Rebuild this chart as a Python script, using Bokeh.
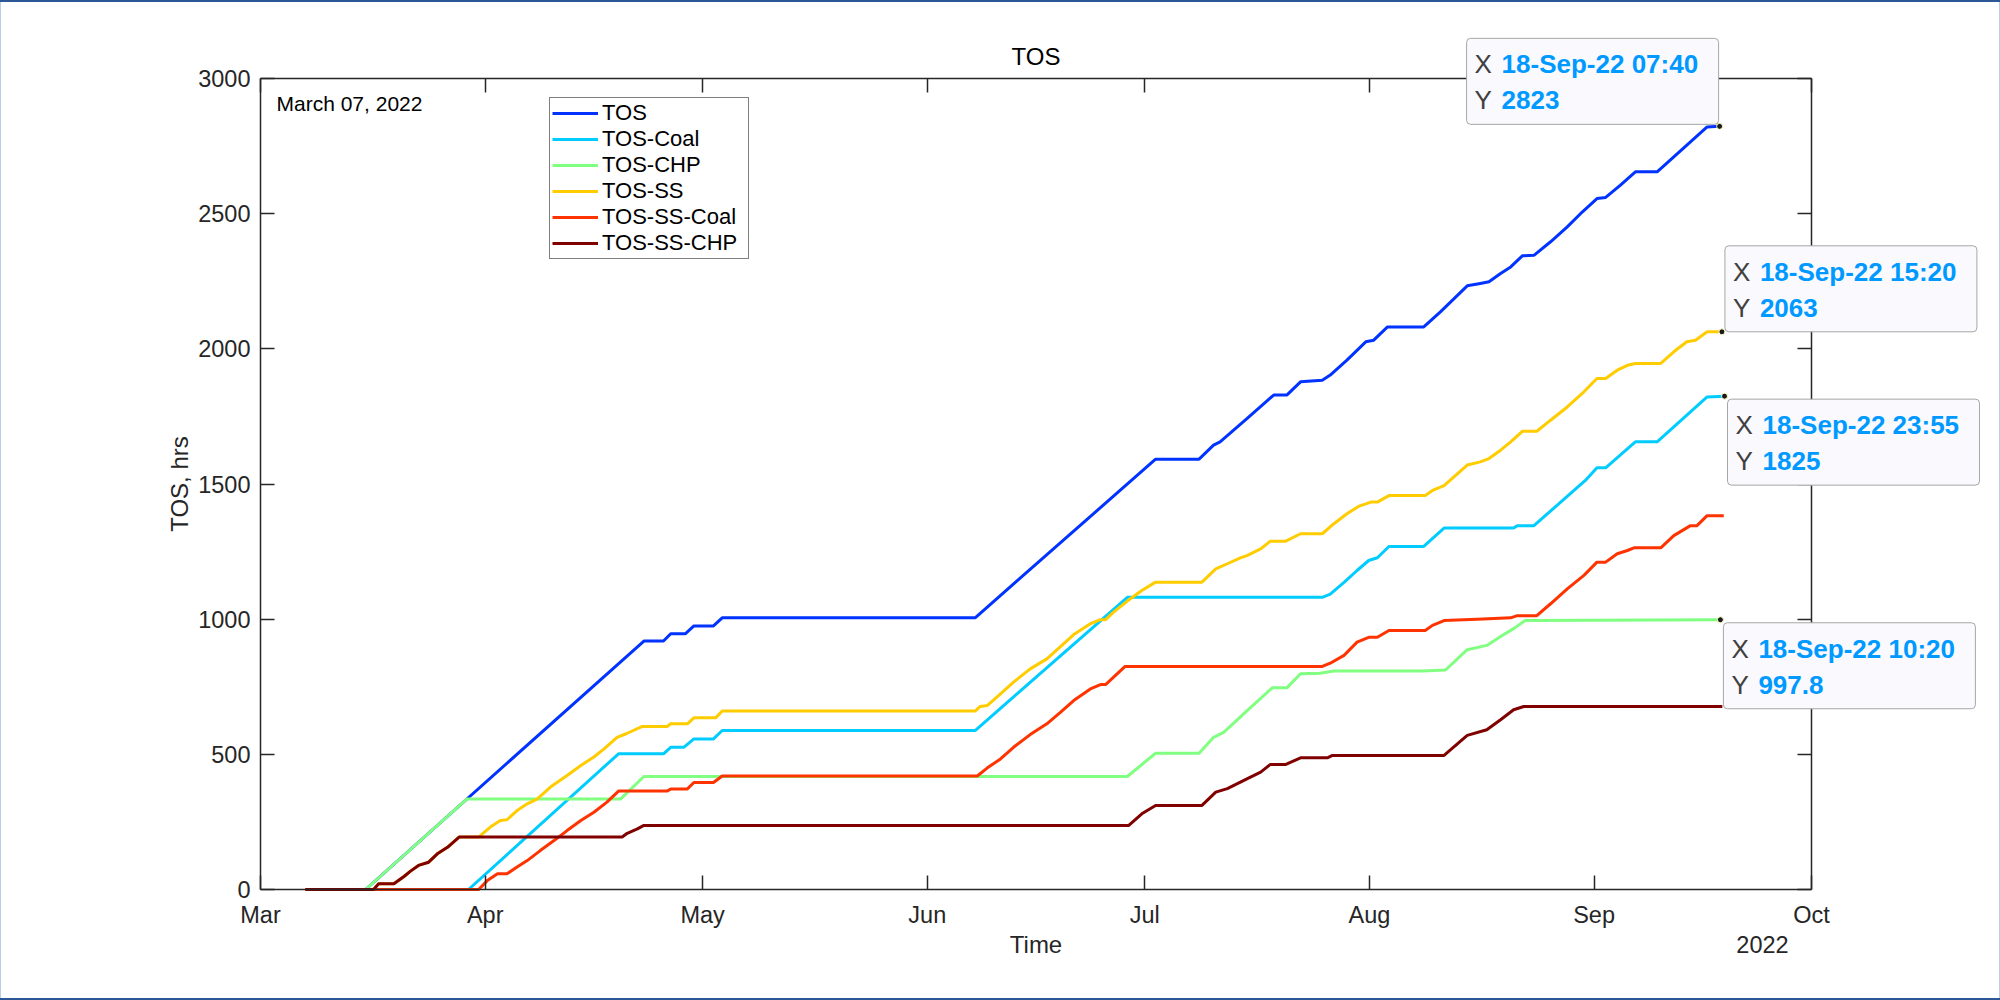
import math
import pandas as pd
from bokeh.plotting import figure
from bokeh.models import (ColumnDataSource, Range1d, FixedTicker, DatetimeTickFormatter,
                          DatetimeAxis, LinearAxis, Label, Legend, LegendItem, BoxAnnotation)
from bokeh.embed import file_html
from bokeh.resources import INLINE

# Time origin of the record and end of the displayed window
START = pd.Timestamp("2022-03-01")
END = pd.Timestamp("2022-10-01")
Y_MAX = 3000

# Cumulative hours per category; *_days = elapsed days since 1 Mar 2022
tos_days = [6.2, 14.5, 52.9, 55.6, 56.6, 58.6, 59.8, 62.5, 63.7,
            98.6, 123.5, 129.5, 131.5, 132.4, 136.1, 139.8, 141.6, 143.5,
            146.5, 147.6, 149.9, 152.5, 153.6, 155.5, 160.5, 162.8, 166.5,
            168.3, 169.5, 171.1, 172.5, 174.1, 175.7, 178.0, 180.3, 182.4,
            184.4, 185.6, 187.6, 189.7, 192.7, 199.6, 201.3194]
tos_hrs = [0, 0, 919, 919, 946, 946, 975, 975, 1005,
           1005, 1592, 1592, 1644, 1656, 1742, 1829, 1829, 1878,
           1884, 1903, 1958, 2026, 2032, 2081, 2081, 2137, 2233,
           2242, 2248, 2279, 2303, 2344, 2346, 2396, 2451, 2507,
           2556, 2560, 2605, 2655, 2655, 2821, 2823]

coal_days = [6.2, 28.7, 49.4, 55.6, 56.6, 58.4, 59.8, 62.5, 63.7,
             98.6, 119.6, 146.5, 147.6, 149.5, 151.3, 152.9, 154.1, 155.7,
             160.5, 163.3, 172.9, 173.4, 175.7, 182.8, 184.4, 185.6, 187.6,
             189.7, 192.7, 199.6, 201.9965]
coal_hrs = [0, 0, 502, 502, 526, 526, 557, 557, 588,
            588, 1081, 1081, 1093, 1136, 1180, 1217, 1227, 1269,
            1269, 1337, 1337, 1346, 1346, 1513, 1560, 1560, 1607,
            1656, 1656, 1822, 1825]

chp_days = [6.2, 14.5, 28.5, 49.7, 52.9, 119.6, 123.5, 129.5, 131.5, 132.9,
            136.1, 139.6, 141.6, 143.5, 146.2, 148.1, 160.3, 163.5, 166.5,
            169.2, 171.1, 172.9, 174.5, 201.4306]
chp_hrs = [0, 0, 335, 335, 418, 418, 504, 504, 563, 581,
           661, 746, 746, 798, 800, 808, 808, 812, 887,
           903, 936, 965, 995, 997.8]

ss_days = [6.2, 15.6, 16.3, 18.4, 19.8, 20.7, 21.8, 23.2, 24.4, 25.8, 27.4,
           30.1, 31.7, 33.1, 34.0, 35.4, 36.8, 38.2, 40.0, 42.3, 44.2, 46.0,
           47.4, 49.2, 50.6, 52.7, 56.1, 56.6, 58.9, 59.8, 62.8, 63.7,
           98.6, 99.3, 100.3, 102.1, 103.9, 106.2, 108.5, 110.8, 112.2, 114.5,
           115.9, 116.6, 117.7, 119.6, 121.6, 123.5, 129.9, 131.8, 133.4, 135.2,
           136.1, 138.0, 139.3, 141.4, 143.5, 146.5, 148.1, 149.9, 151.5, 153.2,
           154.1, 155.7, 160.7, 161.7, 163.3, 166.5, 168.3, 169.5, 171.1, 172.5,
           174.1, 176.1, 178.0, 180.3, 182.6, 184.4, 185.6, 187.2, 188.6, 189.7,
           193.2, 195.0, 196.8, 198.0, 199.6, 201.6389]
ss_hrs = [0, 0, 21, 21, 48, 68, 89, 101, 132, 156, 194,
          194, 231, 255, 258, 292, 317, 335, 379, 422, 459, 490,
          520, 563, 578, 603, 603, 613, 613, 635, 635, 660,
          660, 677, 681, 724, 767, 816, 853, 909, 943, 983,
          998, 998, 1026, 1067, 1106, 1137, 1137, 1186, 1205, 1227,
          1235, 1260, 1288, 1288, 1316, 1316, 1353, 1390, 1417, 1433,
          1433, 1457, 1457, 1476, 1494, 1570, 1582, 1594, 1625, 1656,
          1695, 1695, 1736, 1785, 1841, 1890, 1890, 1921, 1939, 1946,
          1946, 1989, 2026, 2032, 2063, 2063]

sscoal_days = [6.2, 30.1, 31.3, 32.7, 34.0, 35.4, 36.8, 38.6, 40.5, 42.3,
               44.2, 46.0, 47.8, 49.4, 56.1, 56.6, 58.9, 59.8, 62.5, 63.7,
               98.9, 100.3, 102.1, 103.9, 106.2, 108.5, 110.4, 112.2, 114.5, 115.9,
               116.6, 119.3, 146.5, 147.6, 149.5, 151.3, 152.9, 154.1, 155.7, 160.7,
               161.7, 163.3, 168.7, 172.5, 173.4, 176.1, 178.0, 180.3, 182.6, 184.4,
               185.6, 187.2, 188.6, 189.5, 193.2, 195.0, 197.3, 198.2, 199.6, 201.9]
sscoal_hrs = [0, 0, 33, 58, 58, 83, 107, 144, 181, 218,
              255, 286, 323, 364, 364, 372, 372, 396, 396, 420,
              420, 450, 483, 526, 573, 613, 656, 699, 742, 758,
              758, 825, 825, 837, 866, 915, 933, 933, 958, 958,
              977, 995, 1001, 1005, 1013, 1013, 1057, 1112, 1162, 1211,
              1211, 1242, 1254, 1264, 1264, 1309, 1346, 1346, 1383, 1383]

sschp_days = [6.2, 15.6, 16.3, 18.4, 19.8, 20.7, 21.8, 23.2, 24.4, 25.8, 27.4,
              49.9, 50.6, 52.0, 52.9, 119.8, 121.6, 123.5, 129.9, 131.8, 133.4,
              135.2, 136.1, 138.0, 139.3, 141.4, 143.5, 147.2, 147.9, 163.3,
              166.5, 169.2, 171.1, 172.9, 174.3, 201.7]
sschp_hrs = [0, 0, 21, 21, 48, 68, 89, 101, 132, 156, 194,
             194, 208, 224, 237, 237, 280, 311, 311, 360, 373,
             397, 409, 434, 462, 462, 487, 487, 496, 496,
             570, 591, 628, 665, 677, 677]

series_names = ["TOS", "TOS-Coal", "TOS-CHP", "TOS-SS", "TOS-SS-Coal", "TOS-SS-CHP"]
series_days = [tos_days, coal_days, chp_days, ss_days, sscoal_days, sschp_days]
series_hrs = [tos_hrs, coal_hrs, chp_hrs, ss_hrs, sscoal_hrs, sschp_hrs]
series_colors = ["#0033FF", "#00CCFF", "#80FF80", "#FFCC00", "#FF3300", "#800000"]

month_ticks = pd.date_range(START, END, freq="MS")
hour_ticks = [0, 500, 1000, 1500, 2000, 2500, 3000]

FONT = "Liberation Sans"
INK = "#262626"

# Page geometry (px): the boxed axes, and the wider drawing frame that also
# holds the data tips and the captions around the box
W, H = 2000, 1000
AX_L, AX_R, AX_T, AX_B = 260, 1811, 78, 889
FR_L, FR_R, FR_T, FR_B = 70, 1990, 11, 956
MS_PER_DAY = 86400000.0


def to_times(days):
    return (START + pd.to_timedelta(pd.Series(days, dtype=float), unit="D")).dt.round("min")


def ms(ts):
    return ts.value / 1e6


span_days = (END - START) / pd.Timedelta(days=1)
px_per_day = (AX_R - AX_L) / span_days
px_per_hr = (AX_B - AX_T) / Y_MAX
x_lo = ms(START) - (AX_L - FR_L) / px_per_day * MS_PER_DAY
x_hi = ms(END) + (FR_R - AX_R) / px_per_day * MS_PER_DAY
y_lo = -(FR_B - AX_B) / px_per_hr
y_hi = Y_MAX + (AX_T - FR_T) / px_per_hr

# Window edge around the page: dark rules top and bottom, light rules at the sides
window_edge = {"box-shadow": ("inset 0 2px 0 0 #2B5797, inset 0 -2px 0 0 #2B5797, "
                              "inset 1px 0 0 0 #B7CDE8, inset -1px 0 0 0 #B7CDE8")}

p = figure(width=W, height=H, x_axis_type="datetime",
           x_range=Range1d(x_lo, x_hi), y_range=Range1d(y_lo, y_hi),
           output_backend="svg", toolbar_location=None,
           min_border_left=FR_L, min_border_right=W - FR_R,
           min_border_top=FR_T, min_border_bottom=H - FR_B,
           background_fill_color="white", border_fill_color=None,
           styles=window_edge)
p.outline_line_color = None
p.grid.visible = False
p.title.visible = False

month_fmt = DatetimeTickFormatter(days="%b", months="%b", years="%b")
tick_ms = [ms(t) for t in month_ticks]
x_bounds = (ms(START), ms(END))
y_bounds = (0, Y_MAX)

# Boxed axes: each side pinned to an edge of the data window
xa = p.xaxis[0]
xa.ticker = FixedTicker(ticks=tick_ms)
xa.formatter = month_fmt
xa.fixed_location = 0
xa.bounds = x_bounds
ya = p.yaxis[0]
ya.ticker = FixedTicker(ticks=hour_ticks)
ya.fixed_location = ms(START)
ya.bounds = y_bounds

top = DatetimeAxis(ticker=FixedTicker(ticks=tick_ms), formatter=month_fmt,
                   fixed_location=Y_MAX, bounds=x_bounds,
                   major_label_overrides={t: "" for t in tick_ms})
right = LinearAxis(ticker=FixedTicker(ticks=hour_ticks),
                   fixed_location=ms(END), bounds=y_bounds,
                   major_label_overrides={t: "" for t in hour_ticks})
p.add_layout(top, "above")
p.add_layout(right, "right")

for ax in (xa, ya, top, right):
    ax.axis_line_color = INK
    ax.axis_line_width = 1.5
    ax.major_tick_line_color = INK
    ax.major_tick_line_width = 1.5
    ax.major_tick_in = 14
    ax.major_tick_out = 0
    ax.minor_tick_line_color = None
    ax.major_label_text_font = FONT
    ax.major_label_text_font_size = "23.5px"
    ax.major_label_text_color = INK

xa.major_label_standoff = 12
ya.major_label_standoff = 10
for ax in (top, right):
    ax.major_label_text_font_size = "1px"
    ax.major_label_text_color = None
    ax.major_label_standoff = 0

items = []
ends = []
for name, d, h, c in zip(series_names, series_days, series_hrs, series_colors):
    t = to_times(d)
    src = ColumnDataSource(dict(t=t, hrs=h))
    r = p.line("t", "hrs", source=src, line_color=c, line_width=3)
    items.append(LegendItem(label=name, renderers=[r]))
    ends.append((t.iloc[-1], h[-1]))

legend = Legend(items=items, location=(549 - FR_L, FR_B - 259), orientation="vertical",
                label_text_font=FONT, label_text_font_size="22px", label_text_color="#000000",
                border_line_color="#000000", border_line_width=1.5,
                background_fill_color="white", background_fill_alpha=1.0,
                padding=2, spacing=0, margin=0,
                label_height=26, glyph_height=26, glyph_width=46,
                label_standoff=4, label_width=144)
p.add_layout(legend)

# Data tips on the last sample of selected series: (series, box left, box top) in px from the point
TIP_W, TIP_H = 252, 86
tips = [("TOS", -253, -88), ("TOS-SS", 3, -86), ("TOS-Coal", 3, 3), ("TOS-CHP", 3, 3)]
tip_x, tip_y = [], []
for name, bx, by in tips:
    t_end, v_end = ends[series_names.index(name)]
    x0 = ms(t_end)
    tip_x.append(x0)
    tip_y.append(v_end)
    left = x0 + bx / px_per_day * MS_PER_DAY
    top_v = v_end - by / px_per_hr
    p.add_layout(BoxAnnotation(left=left, right=left + TIP_W / px_per_day * MS_PER_DAY,
                               top=top_v, bottom=top_v - TIP_H / px_per_hr,
                               fill_color="#F9F9FE", fill_alpha=1.0,
                               line_color="#A6A6A6", line_alpha=1.0, line_width=1,
                               border_radius=4))
    rows = [("X", t_end.strftime("%d-%b-%y %H:%M"), 26), ("Y", "%g" % v_end, 62)]
    for key, val, dy in rows:
        p.add_layout(Label(x=x0, y=v_end, x_offset=bx + 8, y_offset=-(by + dy),
                           text=key, text_font=FONT, text_font_size="26px",
                           text_color="#404040", text_baseline="middle", text_align="left"))
        p.add_layout(Label(x=x0, y=v_end, x_offset=bx + 35, y_offset=-(by + dy),
                           text=val, text_font=FONT, text_font_size="26px",
                           text_font_style="bold", text_color="#0099FF",
                           text_baseline="middle", text_align="left"))

p.scatter(x=tip_x, y=tip_y, size=6, marker="circle",
          fill_color="#1A1A1A", line_color="#FFFFCC", line_width=1)

mid = ms(START + (END - START) / 2)
# Title, date stamp, axis captions and year stamp
p.add_layout(Label(x=mid, y=Y_MAX, y_offset=AX_T - 56, text="TOS",
                   text_font=FONT, text_font_size="24px", text_color="#000000",
                   text_baseline="middle", text_align="center"))
p.add_layout(Label(x=ms(START), y=Y_MAX, x_offset=16, y_offset=-(102.5 - AX_T),
                   text="March 07, 2022",
                   text_font=FONT, text_font_size="21px", text_color="#000000",
                   text_baseline="middle", text_align="left"))
p.add_layout(Label(x=mid, y=0, y_offset=-(943.5 - AX_B), text="Time",
                   text_font=FONT, text_font_size="24px", text_color=INK,
                   text_baseline="middle", text_align="center"))
p.add_layout(Label(x=ms(END), y=0, x_offset=-49, y_offset=-(943.5 - AX_B), text="2022",
                   text_font=FONT, text_font_size="23.5px", text_color=INK,
                   text_baseline="middle", text_align="center"))
p.add_layout(Label(x=ms(START), y=Y_MAX / 2, x_offset=-(AX_L - 179), text="TOS, hrs",
                   angle=math.pi / 2, text_font=FONT, text_font_size="24px", text_color=INK,
                   text_baseline="middle", text_align="center"))

open("out.html", "w").write(file_html(p, INLINE))
